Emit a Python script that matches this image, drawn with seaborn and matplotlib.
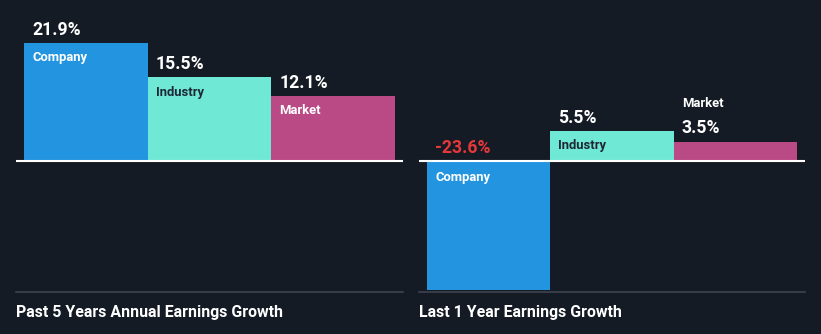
import matplotlib
matplotlib.use("Agg")
import matplotlib.pyplot as plt
import seaborn as sns
import pandas as pd

categories = ["Company", "Industry", "Market"]
past5_values = [21.9, 15.5, 12.1]
last1_values = [-23.6, 5.5, 3.5]
panel_titles = ["Past 5 Years Annual Earnings Growth", "Last 1 Year Earnings Growth"]

BG = "#151b25"
bar_colors = {"Company": "#2394df", "Industry": "#6fe8d6", "Market": "#b94a85"}
name_colors = {"Company": "#ffffff", "Industry": "#1e2834", "Market": "#ffffff"}

sns.set_theme(style="dark")
plt.rcParams["font.family"] = ["Roboto", "DejaVu Sans"]

W, H = 821, 334
fig = plt.figure(figsize=(W / 100, H / 100), dpi=100, facecolor=BG)

def px_rect(x0, y_top, x1, y_bot):
    return [x0 / W, 1 - y_bot / H, (x1 - x0) / W, (y_bot - y_top) / H]

panels = [
    (past5_values, px_rect(16, 10, 403, 292), 5.41, 16),
    (last1_values, px_rect(419, 10, 805, 292), 5.48, 419),
]

for (vals, rect, scale, title_x), title in zip(panels, panel_titles):
    ax = fig.add_axes(rect)
    ax.set_facecolor(BG)
    df = pd.DataFrame({"cat": categories, "val": vals})
    sns.barplot(data=df, x="cat", y="val", hue="cat", palette=bar_colors,
                width=1.0, saturation=1, linewidth=0, legend=False, ax=ax)
    ax.set_xlim(-0.565, 2.565)
    ax.set_ylim(-(292 - 161) / scale, (161 - 10) / scale)
    ax.axhline(0, color="white", lw=1.5, zorder=5)
    for s in ["top", "left", "right"]:
        ax.spines[s].set_visible(False)
    ax.spines["bottom"].set_color("#3d4450")
    ax.spines["bottom"].set_linewidth(1.2)
    ax.set_xticks([])
    ax.set_yticks([])
    ax.set_xlabel("")
    ax.set_ylabel("")
    ax.grid(False)

    for i, (c, v) in enumerate(zip(categories, vals)):
        xl = i - 0.5
        hpx = abs(v) * scale
        vtxt = f"{v:.1f}%"
        vcol = "#e5383b" if v < 0 else "white"
        if v >= 0:
            if hpx >= 25:
                ax.annotate(vtxt, (xl, v), xytext=(8, 13), textcoords="offset pixels",
                            ha="left", va="center", color=vcol, fontsize=12.7, fontweight="bold")
                ax.annotate(c, (xl, v), xytext=(8, -15), textcoords="offset pixels",
                            ha="left", va="center", color=name_colors[c], fontsize=9.4, fontweight="bold")
            else:
                ax.annotate(vtxt, (xl, v), xytext=(8, 14), textcoords="offset pixels",
                            ha="left", va="center", color=vcol, fontsize=12.7, fontweight="bold")
                ax.annotate(c, (xl, v), xytext=(8, 38), textcoords="offset pixels",
                            ha="left", va="center", color="white", fontsize=9.4, fontweight="bold")
        else:
            ax.annotate(vtxt, (xl, 0), xytext=(8, 13), textcoords="offset pixels",
                        ha="left", va="center", color=vcol, fontsize=12.7, fontweight="bold")
            ax.annotate(c, (xl, 0), xytext=(8, -16), textcoords="offset pixels",
                        ha="left", va="center", color=name_colors[c], fontsize=9.4, fontweight="bold")

    fig.text(title_x / W, 1 - 312 / H, title, ha="left", va="center",
             color="white", fontsize=11.4, fontweight="bold")

fig.savefig("out.png", dpi=100, facecolor=BG)
